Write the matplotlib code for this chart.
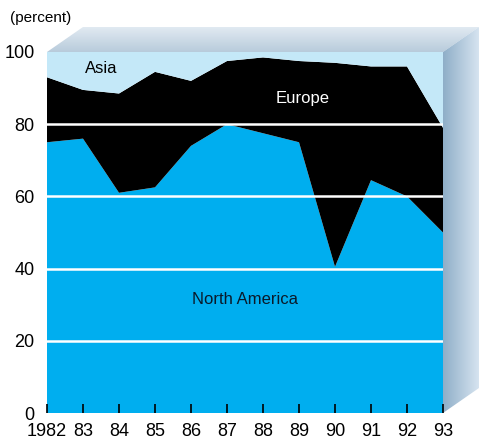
import numpy as np
import matplotlib
matplotlib.use("Agg")
import matplotlib.pyplot as plt
from matplotlib.patches import Polygon

plt.rcParams['font.family'] = ['Liberation Sans Narrow', 'Liberation Sans', 'DejaVu Sans']

years = list(range(1982, 1994))
year_labels = ["1982", "83", "84", "85", "86", "87", "88", "89", "90", "91", "92", "93"]
north_america = [75, 76, 61, 62.5, 74, 80, 77.5, 75, 40.5, 64.5, 60, 50]
europe = [18, 13.5, 27.5, 32, 18, 17.5, 21, 22.5, 56.5, 31.5, 36, 29]
asia = [7, 10.5, 11.5, 5.5, 8, 2.5, 1.5, 2.5, 3, 4, 4, 21]

W, H = 479, 441
fig = plt.figure(figsize=(W / 100, H / 100), dpi=100)

# plot area in pixels
x0, x1, ytop, ybot = 47, 443, 52, 413
dx, dy = 36, 25

# 3D box decoration (top and right faces) on a full-figure overlay
deco = fig.add_axes([0, 0, 1, 1], zorder=0)
deco.set_xlim(0, W)
deco.set_ylim(H, 0)
deco.axis('off')

def gradient_face(pts, c_from, c_to, horizontal):
    poly = Polygon(pts, closed=True, facecolor='none', edgecolor='none')
    deco.add_patch(poly)
    n = 256
    t = np.linspace(0, 1, n)
    c_from = np.array(matplotlib.colors.to_rgb(c_from))
    c_to = np.array(matplotlib.colors.to_rgb(c_to))
    grad = c_from[None, :] * (1 - t[:, None]) + c_to[None, :] * t[:, None]
    xs = [p[0] for p in pts]
    ys = [p[1] for p in pts]
    if horizontal:
        img = grad[None, :, :]
    else:
        img = grad[:, None, :]
    im = deco.imshow(img, extent=(min(xs), max(xs), max(ys), min(ys)),
                     aspect='auto', interpolation='bilinear')
    im.set_clip_path(poly)

gradient_face([(x0, ytop), (x0 + dx, ytop - dy), (x1 + dx, ytop - dy), (x1, ytop)],
              '#e1eaf2', '#b8cbdb', horizontal=False)
gradient_face([(x1, ytop), (x1 + dx, ytop - dy), (x1 + dx, ybot - dy), (x1, ybot)],
              '#8faec8', '#d6e4f0', horizontal=True)

ax = fig.add_axes([x0 / W, (H - ybot) / H, (x1 - x0) / W, (ybot - ytop) / H], zorder=1)
ax.stackplot(years, north_america, europe, asia,
             colors=['#00aeef', '#000000', '#c4e8f8'], linewidth=0)
ax.set_xlim(1982, 1993)
ax.set_ylim(0, 100)

for v in [20, 40, 60, 80]:
    ax.axhline(v, color='white', linewidth=1.8, zorder=3)

for s in ax.spines.values():
    s.set_visible(False)

ax.set_xticks(years)
ax.set_xticklabels(year_labels)
ax.set_yticks([0, 20, 40, 60, 80, 100])
ax.tick_params(axis='x', direction='in', length=6.5, width=1.2, color='black',
               labelsize=13, pad=7, top=False)
ax.tick_params(axis='y', length=0, labelsize=13, pad=9)
for t in ax.get_xticklines():
    t.set_zorder(4)

ax.text(1983.5, 95.5, "Asia", fontsize=12, color='black', ha='center', va='center')
ax.text(1989.1, 87, "Europe", fontsize=12, color='white', ha='center', va='center')
ax.text(1987.5, 31.5, "North America", fontsize=12, color='#0a1a2a', ha='center', va='center')

fig.text(10 / W, 1 - 18 / H, "(percent)", fontsize=11, ha='left', va='center')

fig.savefig("out.png", dpi=100)
